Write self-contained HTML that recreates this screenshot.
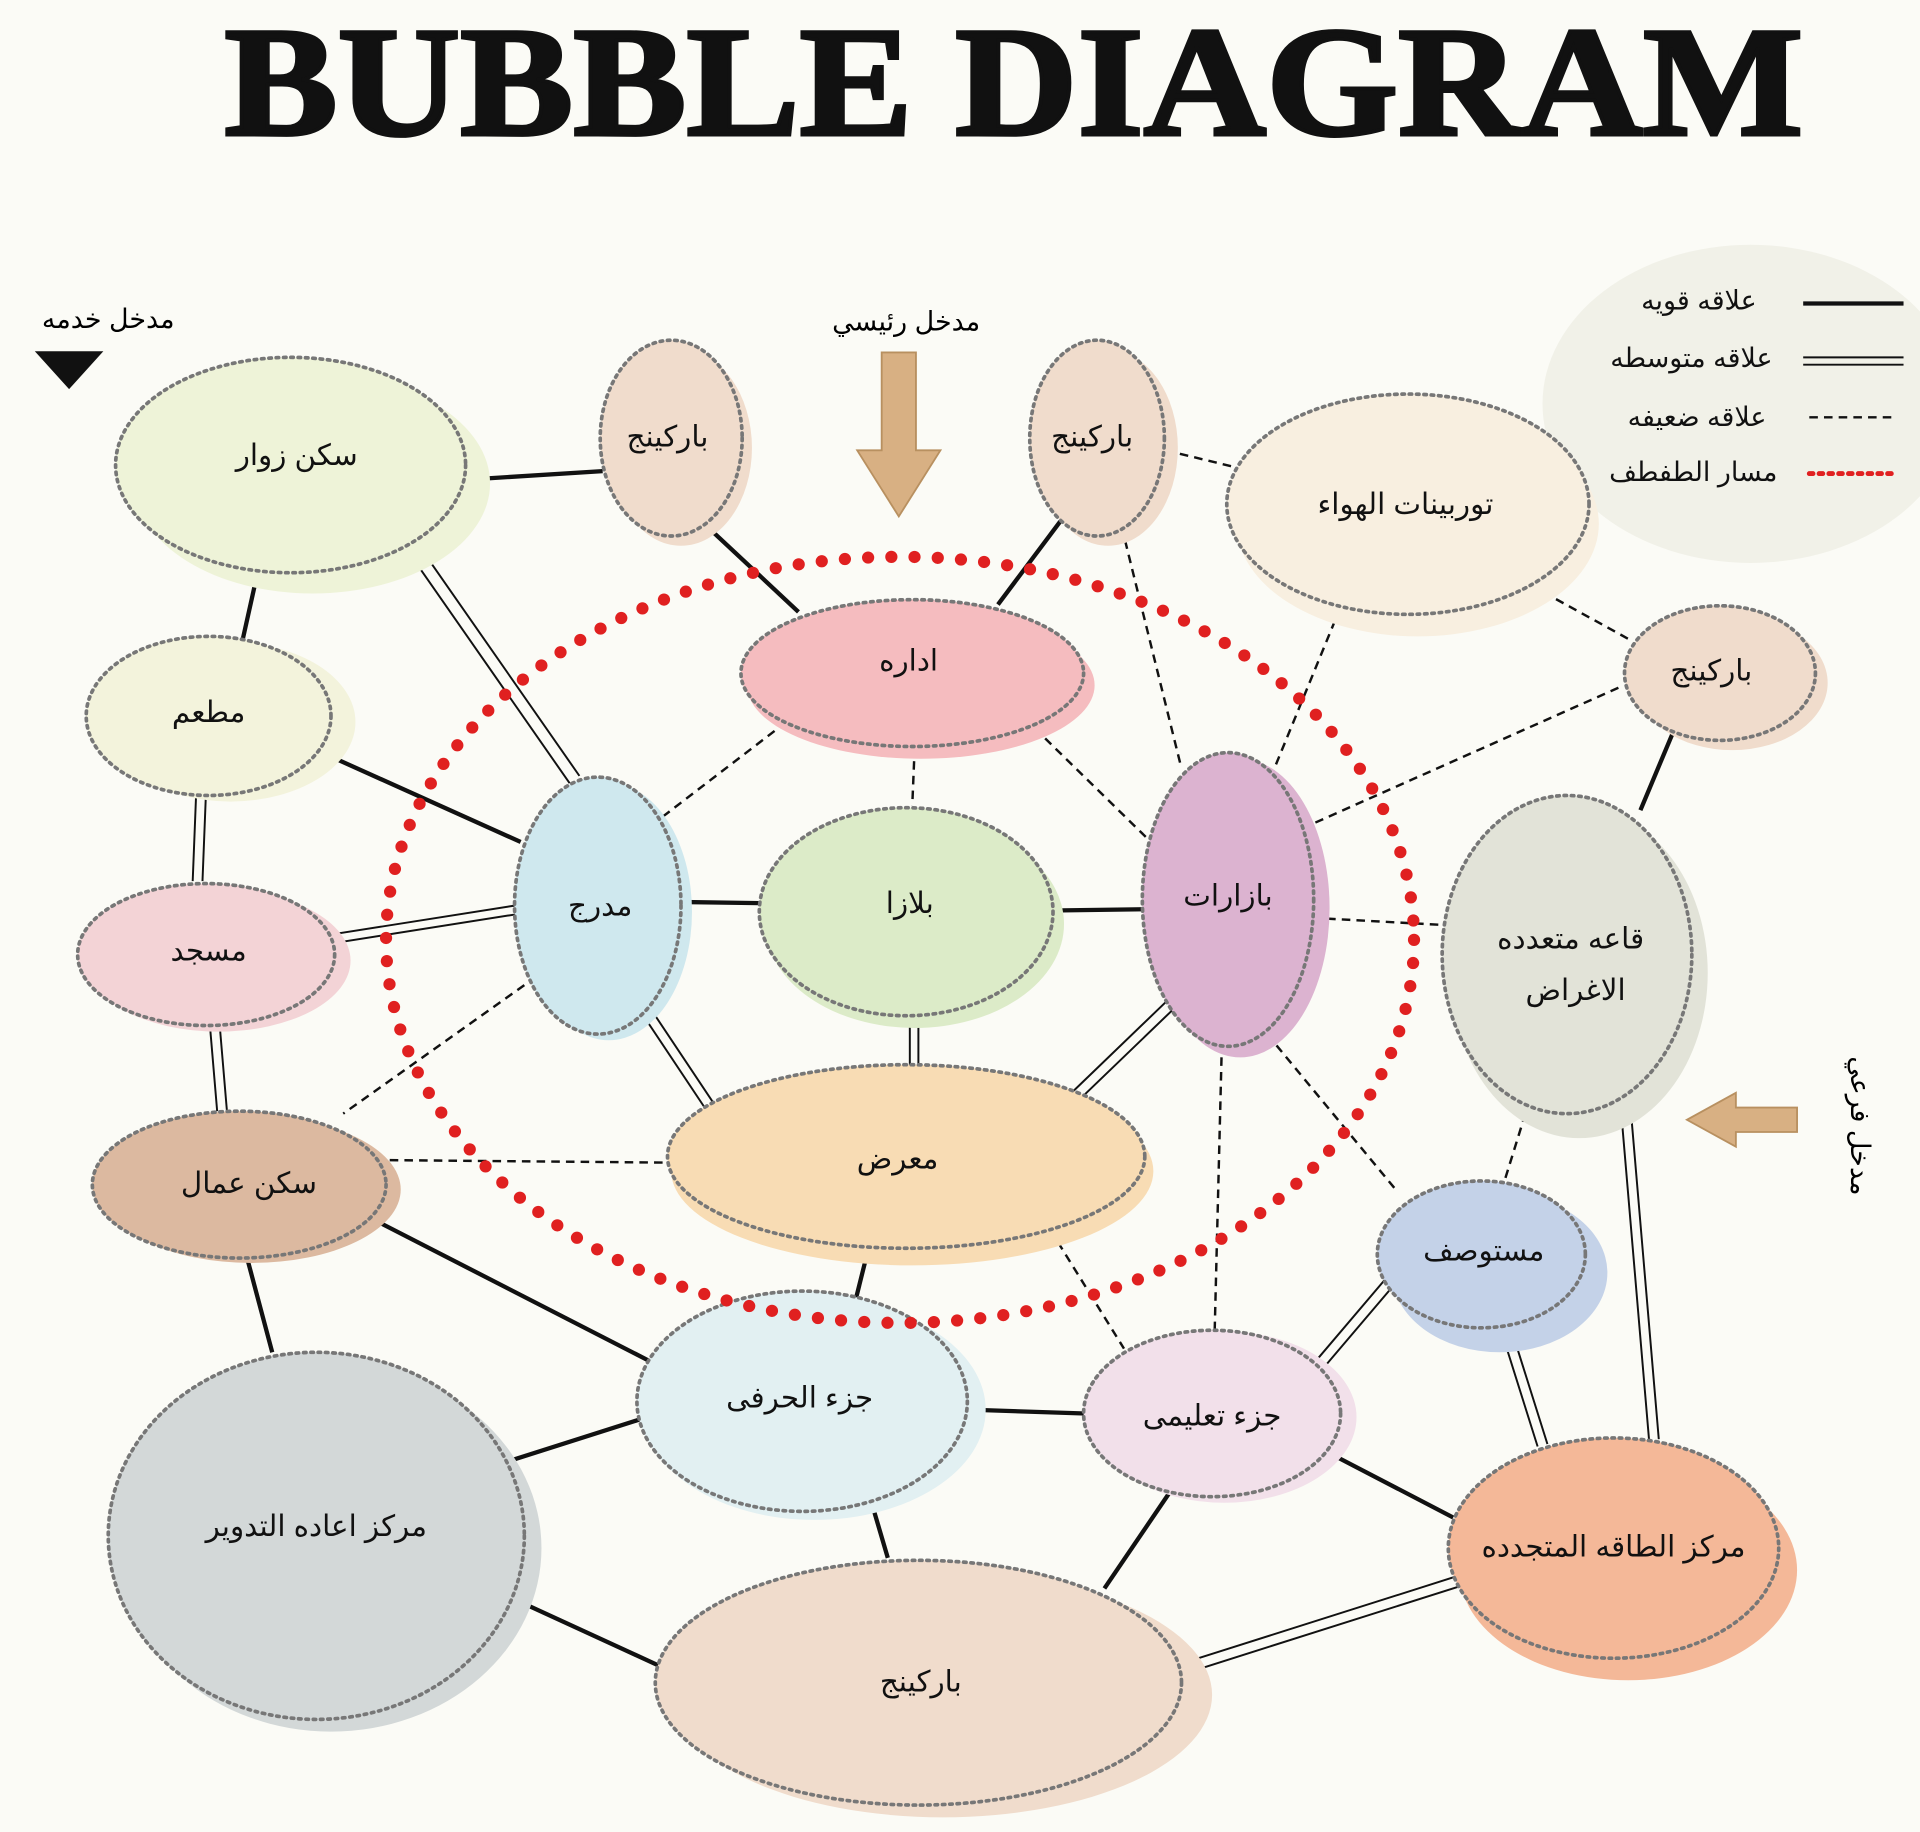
<!DOCTYPE html>
<html><head><meta charset="utf-8"><style>
html,body{margin:0;padding:0;background:#fbfbf6;}
svg{display:block;}
text{font-family:"Liberation Sans","DejaVu Sans",sans-serif;}
</style></head><body>
<svg width="1920" height="1832" viewBox="0 0 1568 1497" xmlns="http://www.w3.org/2000/svg">
<rect width="1568" height="1497" fill="#fbfbf6"/>
<text x="828" y="110" text-anchor="middle" font-family="Liberation Serif,serif" font-weight="bold" font-size="128" textLength="1290" lengthAdjust="spacingAndGlyphs" fill="#111" stroke="#111" stroke-width="3" style="font-family:'Liberation Serif',serif">BUBBLE DIAGRAM</text>
<!-- legend bg -->
<ellipse cx="1430" cy="330" rx="170" ry="130" fill="#f1f1e8"/>
<g font-size="22" fill="#111" text-anchor="end">
<text x="1435" y="253">علاقه قويه</text>
<text x="1448" y="300">علاقه متوسطه</text>
<text x="1443" y="348">علاقه ضعيفه</text>
<text x="1452" y="393">مسار الطفطف</text>
</g>
<line x1="1473" y1="248" x2="1555" y2="248" stroke="#111" stroke-width="3.5"/>
<line x1="1473" y1="292" x2="1555" y2="292" stroke="#111" stroke-width="1.6"/>
<line x1="1473" y1="298" x2="1555" y2="298" stroke="#111" stroke-width="1.6"/>
<line x1="1478" y1="341" x2="1550" y2="341" stroke="#111" stroke-width="2" stroke-dasharray="7,5"/>
<line x1="1478" y1="387" x2="1550" y2="387" stroke="#e02020" stroke-width="4" stroke-dasharray="3,5" stroke-linecap="round"/>
<!-- entrances -->
<text x="88" y="268" font-size="22" text-anchor="middle">مدخل خدمه</text>
<polygon points="28,287 84,287 56,318" fill="#111"/>
<text x="740" y="270" font-size="22" text-anchor="middle">مدخل رئيسي</text>
<polygon points="720,288 748,288 748,368 768,368 734,422 700,368 720,368" fill="#d8b083" stroke="#b89060" stroke-width="1.5"/>
<polygon points="1468,905 1418,905 1418,893 1378,915 1418,937 1418,925 1468,925" fill="#d8b083" stroke="#b89060" stroke-width="1.5"/>
<text transform="translate(1512,920) rotate(90)" font-size="22" text-anchor="middle">مدخل فرعي</text>
<!-- connectors -->
<g stroke="#111" fill="none">
<g stroke-width="3.5">
<line x1="380" y1="392" x2="492" y2="385"/>
<line x1="210" y1="468" x2="198" y2="522"/>
<line x1="575" y1="428" x2="652" y2="500"/>
<line x1="866" y1="426" x2="815" y2="494"/>
<line x1="1366" y1="600" x2="1340" y2="662"/>
<line x1="256" y1="612" x2="425" y2="688"/>
<line x1="553" y1="737" x2="620" y2="738"/>
<line x1="860" y1="744" x2="935" y2="743"/>
<line x1="202" y1="1030" x2="222" y2="1105"/>
<line x1="292" y1="990" x2="530" y2="1112"/>
<line x1="708" y1="1025" x2="698" y2="1065"/>
<line x1="412" y1="1195" x2="522" y2="1160"/>
<line x1="794" y1="1152" x2="886" y2="1155"/>
<line x1="710" y1="1222" x2="725" y2="1273"/>
<line x1="955" y1="1220" x2="902" y2="1298"/>
<line x1="1087" y1="1188" x2="1187" y2="1240"/>
<line x1="416" y1="1305" x2="540" y2="1362"/>
</g>
<g stroke-width="1.6">
<path d="M334,452 L465,640 M342,446 L473,634"/>
<path d="M160,644 L157,720 M168,644 L165,720"/>
<path d="M268,764 L420,740 M270,771 L422,747"/>
<path d="M171,837 L177,908 M179,837 L185,908"/>
<path d="M520,822 L576,906 M527,818 L583,902"/>
<path d="M743,830 L743,870 M750,830 L750,870"/>
<path d="M872,896 L953,818 M878,902 L959,824"/>
<path d="M1322,882 L1347,1176 M1330,882 L1355,1176"/>
<path d="M1074,1113 L1136,1040 M1080,1119 L1142,1046"/>
<path d="M1228,1093 L1256,1182 M1236,1091 L1264,1180"/>
<path d="M963,1360 L1190,1288 M966,1368 L1193,1296"/>
</g>
<g stroke-width="2" stroke-dasharray="7,5">
<line x1="952" y1="368" x2="1010" y2="382"/>
<line x1="1250" y1="478" x2="1330" y2="522"/>
<line x1="1095" y1="496" x2="1040" y2="630"/>
<line x1="916" y1="430" x2="965" y2="628"/>
<line x1="1322" y1="562" x2="1068" y2="675"/>
<line x1="642" y1="590" x2="535" y2="672"/>
<line x1="747" y1="610" x2="745" y2="658"/>
<line x1="845" y1="595" x2="938" y2="686"/>
<line x1="1072" y1="750" x2="1182" y2="756"/>
<line x1="428" y1="805" x2="280" y2="910"/>
<line x1="318" y1="948" x2="545" y2="950"/>
<line x1="998" y1="852" x2="992" y2="1092"/>
<line x1="1035" y1="845" x2="1140" y2="972"/>
<line x1="1246" y1="910" x2="1228" y2="968"/>
<line x1="864" y1="1015" x2="918" y2="1102"/>
</g>
</g>
<!-- bubbles -->
<g stroke="#777" stroke-width="3" stroke-dasharray="2,4" stroke-linecap="round">
<g id="b">
<ellipse cx="255" cy="395" rx="145" ry="90" fill="#eef3d8" stroke="none"/><ellipse cx="237" cy="380" rx="143" ry="88" fill="#eef3d8"/>
<ellipse cx="556" cy="366" rx="58" ry="80" fill="#f0dccc" stroke="none"/><ellipse cx="548" cy="358" rx="58" ry="80" fill="#f0dccc"/>
<ellipse cx="905" cy="366" rx="57" ry="80" fill="#f0dccc" stroke="none"/><ellipse cx="896" cy="358" rx="55" ry="80" fill="#f0dccc"/>
<ellipse cx="1158" cy="428" rx="148" ry="92" fill="#f8efe0" stroke="none"/><ellipse cx="1150" cy="412" rx="148" ry="90" fill="#f8efe0"/>
<ellipse cx="1415" cy="558" rx="78" ry="55" fill="#f0dccc" stroke="none"/><ellipse cx="1405" cy="550" rx="78" ry="55" fill="#f0dccc"/>
<ellipse cx="752" cy="560" rx="142" ry="60" fill="#f5bcbf" stroke="none"/><ellipse cx="745" cy="550" rx="140" ry="60" fill="#f5bcbf"/>
<ellipse cx="188" cy="590" rx="102" ry="65" fill="#f3f3dc" stroke="none"/><ellipse cx="170" cy="585" rx="100" ry="65" fill="#f3f3dc"/>
<ellipse cx="497" cy="745" rx="68" ry="105" fill="#cfe8ee" stroke="none"/><ellipse cx="488" cy="740" rx="68" ry="105" fill="#cfe8ee"/>
<ellipse cx="747" cy="755" rx="122" ry="85" fill="#dcebc8" stroke="none"/><ellipse cx="740" cy="745" rx="120" ry="85" fill="#dcebc8"/>
<ellipse cx="1013" cy="742" rx="73" ry="122" fill="#dcb3d0" stroke="none"/><ellipse cx="1003" cy="735" rx="70" ry="120" fill="#dcb3d0"/>
<ellipse cx="1290" cy="795" rx="105" ry="135" fill="#e2e3d8" stroke="none"/><ellipse cx="1280" cy="780" rx="102" ry="130" fill="#e2e3d8"/>
<ellipse cx="178" cy="785" rx="108" ry="58" fill="#f3d3d6" stroke="none"/><ellipse cx="168" cy="780" rx="105" ry="58" fill="#f3d3d6"/>
<ellipse cx="205" cy="972" rx="122" ry="60" fill="#dcb9a0" stroke="none"/><ellipse cx="195" cy="968" rx="120" ry="60" fill="#dcb9a0"/>
<ellipse cx="745" cy="957" rx="197" ry="77" fill="#f8dcb4" stroke="none"/><ellipse cx="740" cy="945" rx="195" ry="75" fill="#f8dcb4"/>
<ellipse cx="1225" cy="1040" rx="88" ry="65" fill="#c4d2e8" stroke="none"/><ellipse cx="1210" cy="1025" rx="85" ry="60" fill="#c4d2e8"/>
<ellipse cx="665" cy="1152" rx="140" ry="90" fill="#e2f0f2" stroke="none"/><ellipse cx="655" cy="1145" rx="135" ry="90" fill="#e2f0f2"/>
<ellipse cx="1000" cy="1158" rx="108" ry="70" fill="#f2e0ea" stroke="none"/><ellipse cx="990" cy="1155" rx="105" ry="68" fill="#f2e0ea"/>
<ellipse cx="270" cy="1265" rx="172" ry="150" fill="#d3d8d8" stroke="none"/><ellipse cx="258" cy="1255" rx="170" ry="150" fill="#d3d8d8"/>
<ellipse cx="1330" cy="1283" rx="138" ry="90" fill="#f4b898" stroke="none"/><ellipse cx="1318" cy="1265" rx="135" ry="90" fill="#f4b898"/>
<ellipse cx="770" cy="1385" rx="220" ry="100" fill="#f0dccc" stroke="none"/><ellipse cx="750" cy="1375" rx="215" ry="100" fill="#f0dccc"/>
</g>
</g>
<!-- tram path -->
<ellipse cx="735" cy="768" rx="420" ry="313" fill="none" stroke="#e02020" stroke-width="10" stroke-dasharray="0,19" stroke-linecap="round"/>
<!-- labels -->
<g font-size="24" fill="#111" text-anchor="middle">
<text x="242" y="380">سكن زوار</text>
<text x="545" y="365">باركينج</text>
<text x="892" y="365">باركينج</text>
<text x="1148" y="420">توربينات الهواء</text>
<text x="1398" y="556">باركينج</text>
<text x="742" y="548">اداره</text>
<text x="170" y="590">مطعم</text>
<text x="490" y="748">مدرج</text>
<text x="743" y="746">بلازا</text>
<text x="1003" y="740">بازارات</text>
<text x="1283" y="775">قاعه متعدده</text>
<text x="1287" y="817">الاغراض</text>
<text x="170" y="785">مسجد</text>
<text x="203" y="975">سكن عمال</text>
<text x="733" y="955">معرض</text>
<text x="1212" y="1030">مستوصف</text>
<text x="653" y="1150">جزء الحرفى</text>
<text x="990" y="1165">جزء تعليمى</text>
<text x="258" y="1255">مركز اعاده التدوير</text>
<text x="1318" y="1272">مركز الطاقه المتجدده</text>
<text x="752" y="1382">باركينج</text>
</g>
</svg>
</body></html>
